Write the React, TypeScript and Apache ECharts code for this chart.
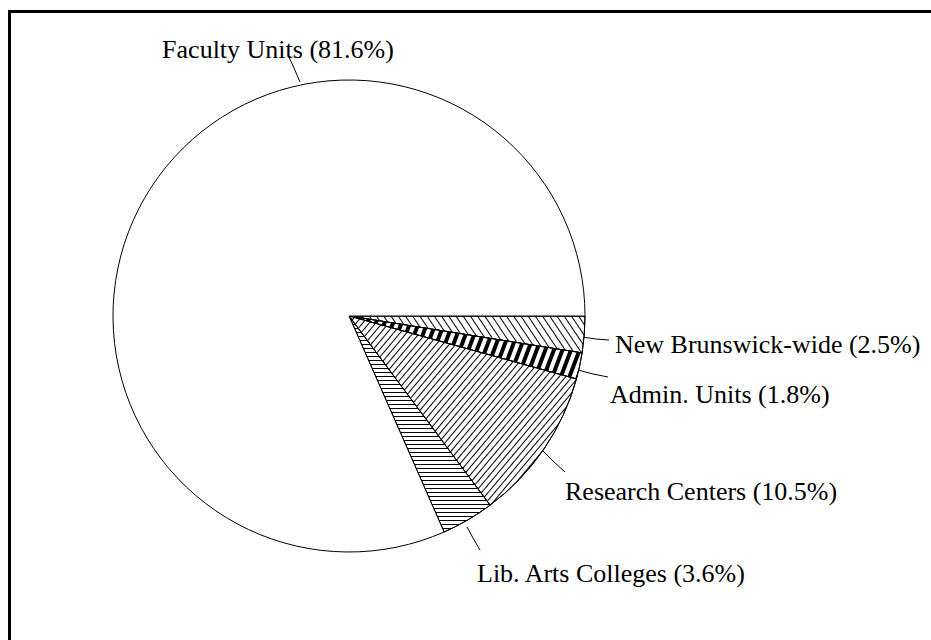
import React, { useEffect, useRef } from "react";
import * as echarts from "echarts";

const categories = [
  "New Brunswick-wide",
  "Admin. Units",
  "Research Centers",
  "Lib. Arts Colleges",
  "Faculty Units",
];
const shares = [2.5, 1.8, 10.5, 3.6, 81.6];

// label placement (layout only)
const labelSpots = [
  { x: 615, y: 344, align: "left", line: [[582, 337], [596, 339], [609, 340]] },
  { x: 610, y: 394, align: "left", line: [[578, 370], [593, 374], [608, 377]] },
  { x: 565, y: 491, align: "left", line: [[541, 449], [553, 461], [565, 472]] },
  { x: 477, y: 573, align: "left", line: [[467, 527], [473, 538], [480, 550]] },
  { x: 278, y: 49, align: "center", line: [[300, 82], [294, 68], [288, 55]] },
];

const decals: any[] = [
  { symbol: "rect", symbolSize: 1, dashArrayX: [1, 0], dashArrayY: [1, 5], rotation: Math.PI / 3.2, color: "#000" },
  { symbol: "rect", symbolSize: 1, dashArrayX: [1, 0], dashArrayY: [4, 4], rotation: -Math.PI / 2.6, color: "#000" },
  { symbol: "rect", symbolSize: 1, dashArrayX: [1, 0], dashArrayY: [1, 4], rotation: -Math.PI / 3.6, color: "#000" },
  { symbol: "rect", symbolSize: 1, dashArrayX: [1, 0], dashArrayY: [1, 3], rotation: 0, color: "#000" },
  null,
];

const serif = "'Liberation Serif', 'Times New Roman', Times, serif";

export default function App() {
  const ref = useRef<HTMLDivElement>(null);
  useEffect(() => {
    document.body.style.margin = "0";
    if (!ref.current) return;
    const chart = echarts.init(ref.current, null, { renderer: "svg" });
    const data = categories.map((name, i) => ({
      name,
      value: shares[i],
      itemStyle: {
        color: "#fff",
        borderColor: "#000",
        borderWidth: 1,
        decal: decals[i] || undefined,
      },
    }));
    chart.setOption({
      animation: false,
      backgroundColor: "#fff",
      graphic: [
        {
          type: "line",
          shape: { x1: 9.5, y1: 640, x2: 9.5, y2: 10 },
          style: { stroke: "#000", lineWidth: 3 },
          silent: true,
        },
        {
          type: "line",
          shape: { x1: 8, y1: 11.5, x2: 931, y2: 11.5 },
          style: { stroke: "#000", lineWidth: 3 },
          silent: true,
        },
      ],
      series: [
        {
          type: "pie",
          center: [349, 316],
          radius: 236,
          startAngle: 0,
          clockwise: true,
          avoidLabelOverlap: false,
          minShowLabelAngle: 0,
          data,
          label: {
            show: true,
            position: "outside",
            color: "#000",
            fontFamily: serif,
            fontSize: 26,
            formatter: (p: any) => `${p.name} (${p.value.toFixed(1)}%)`,
          },
          labelLine: {
            show: true,
            lineStyle: { color: "#000", width: 1 },
          },
          labelLayout: (params: any) => {
            const s = labelSpots[params.dataIndex];
            return {
              x: s.x,
              y: s.y,
              align: s.align,
              verticalAlign: "middle",
              labelLinePoints: s.line,
            };
          },
        },
      ],
    });
    return () => chart.dispose();
  }, []);
  return <div ref={ref} style={{ width: 931, height: 640 }} />;
}
